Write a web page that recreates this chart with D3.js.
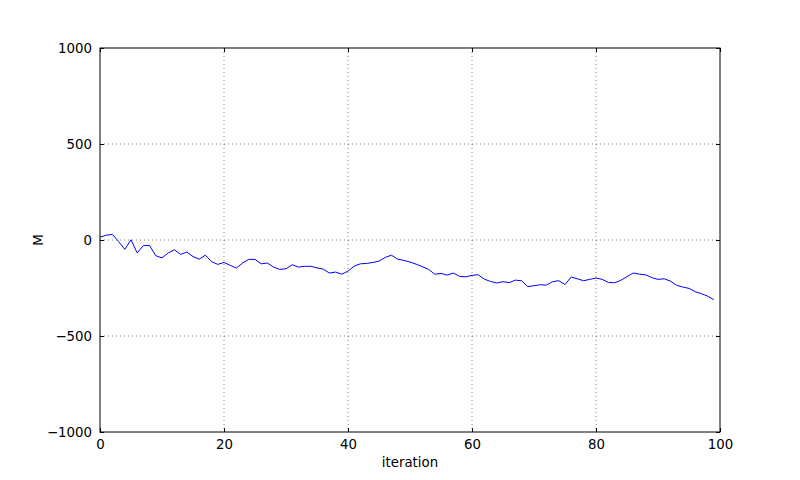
<!DOCTYPE html>
<html><head><meta charset="utf-8">
<script src="https://cdn.jsdelivr.net/npm/d3@7"></script>
<style>body{margin:0;background:#fff}svg{display:block}text{font-family:"DejaVu Sans",sans-serif}</style>
</head><body><svg id="c" width="800" height="480"></svg>
<script>
const xTicks = [0, 20, 40, 60, 80, 100];
const yTicks = [-1000, -500, 0, 500, 1000];
const yTickLabels = ["\u22121000", "\u2212500", "0", "500", "1000"];
const iterations = d3.range(100);
const M = [15, 25, 29, -8, -49, 1, -67, -29, -29, -82,
  -93, -67, -51, -75, -63, -86, -100, -79, -113, -127,
  -117, -132, -146, -120, -101, -101, -124, -120, -141, -153,
  -150, -129, -141, -137, -137, -145, -152, -172, -167, -178,
  -162, -136, -124, -122, -117, -110, -91, -79, -100, -106,
  -115, -126, -139, -153, -178, -174, -183, -172, -190, -192,
  -184, -181, -204, -216, -224, -217, -222, -209, -212, -243,
  -238, -233, -235, -217, -212, -232, -193, -202, -212, -205,
  -198, -205, -221, -223, -210, -191, -172, -178, -181, -196,
  -205, -202, -214, -236, -245, -252, -269, -280, -292, -311];

const svg = d3.select("#c");
const L = 100, R = 720, T = 48, B = 432;
const x = d3.scaleLinear().domain([0, 100]).range([L, R]);
const y = d3.scaleLinear().domain([-1000, 1000]).range([B, T]);
const fs = "13.33px";

// grid
const g = svg.append("g");
g.selectAll(".gx").data(xTicks.slice(1, -1)).join("line")
  .attr("x1", d => x(d)).attr("x2", d => x(d)).attr("y1", T).attr("y2", B)
  .attr("stroke", "#000").attr("stroke-width", 0.5).attr("stroke-dasharray", "1,3");
g.selectAll(".gy").data(yTicks.slice(1, -1)).join("line")
  .attr("y1", d => y(d)).attr("y2", d => y(d)).attr("x1", L).attr("x2", R)
  .attr("stroke", "#000").attr("stroke-width", 0.5).attr("stroke-dasharray", "1,3");

// line
svg.append("path").datum(M)
  .attr("fill", "none").attr("stroke", "#0000ff").attr("stroke-width", 1)
  .attr("d", d3.line().x((d, i) => x(iterations[i])).y(d => y(d)));

// axes with inward ticks
const axB = svg.append("g").attr("transform", `translate(0,${B})`)
  .call(d3.axisBottom(x).tickValues(xTicks).tickSizeInner(-4).tickSizeOuter(0).tickPadding(8));
const axT = svg.append("g").attr("transform", `translate(0,${T})`)
  .call(d3.axisTop(x).tickValues(xTicks).tickSizeInner(-4).tickSizeOuter(0).tickFormat(""));
const axL = svg.append("g").attr("transform", `translate(${L},0)`)
  .call(d3.axisLeft(y).tickValues(yTicks).tickSizeInner(-4).tickSizeOuter(0).tickPadding(8)
    .tickFormat((d, i) => yTickLabels[i]));
const axR = svg.append("g").attr("transform", `translate(${R},0)`)
  .call(d3.axisRight(y).tickValues(yTicks).tickSizeInner(-4).tickSizeOuter(0).tickFormat(""));
[axB, axT, axL, axR].forEach(a => {
  a.select(".domain").remove();
  a.selectAll(".tick line").attr("stroke", "#000");
  a.selectAll("text").attr("font-size", fs).attr("fill", "#000").attr("font-family", "DejaVu Sans");
});

// frame
svg.append("rect").attr("x", L).attr("y", T).attr("width", R - L).attr("height", B - T)
  .attr("fill", "none").attr("stroke", "#000").attr("stroke-width", 1);

// labels
svg.append("text").attr("x", (L + R) / 2).attr("y", 467).attr("text-anchor", "middle")
  .attr("font-size", fs).text("iteration");
svg.append("text").attr("transform", `translate(43,${(T + B) / 2}) rotate(-90)`)
  .attr("text-anchor", "middle").attr("font-size", fs).text("M");
</script></body></html>
